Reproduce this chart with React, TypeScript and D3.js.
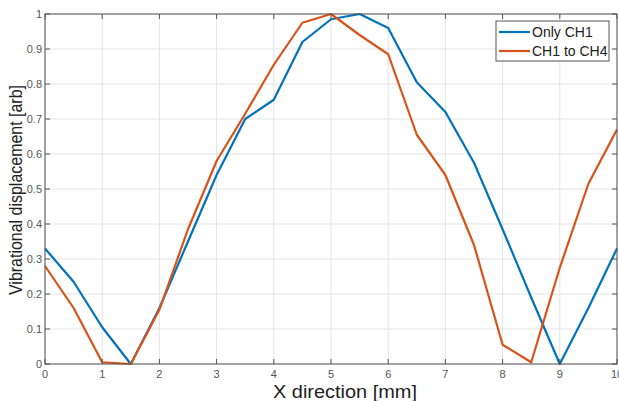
import React from "react";
import * as d3 from "d3";

// sample positions along X [mm]
const xPositions = [0, 0.5, 1, 1.5, 2, 2.5, 3, 3.5, 4, 4.5, 5, 5.5, 6, 6.5, 7, 7.5, 8, 8.5, 9, 9.5, 10];
const onlyCh1 = [0.33, 0.235, 0.105, 0.0, 0.16, 0.35, 0.54, 0.7, 0.755, 0.92, 0.985, 1.0, 0.96, 0.805, 0.72, 0.575, 0.385, 0.19, 0.0, 0.16, 0.33];
const ch1ToCh4 = [0.28, 0.16, 0.005, 0.0, 0.155, 0.385, 0.58, 0.715, 0.855, 0.975, 1.0, 0.94, 0.885, 0.655, 0.54, 0.34, 0.055, 0.005, 0.275, 0.515, 0.67];
const xTicks = [0, 1, 2, 3, 4, 5, 6, 7, 8, 9, 10];
const yTicks = [0, 0.1, 0.2, 0.3, 0.4, 0.5, 0.6, 0.7, 0.8, 0.9, 1];
const seriesNames = ["Only CH1", "CH1 to CH4"];

const colors = ["#0072BD", "#D95319"];

export default function App() {
  const width = 619;
  const height = 401;
  const margin = { top: 14, right: 2, bottom: 37, left: 45 };
  const innerWidth = width - margin.left - margin.right;
  const innerHeight = height - margin.top - margin.bottom;

  const xScale = d3.scaleLinear().domain([0, 10]).range([0, innerWidth]);
  const yScale = d3.scaleLinear().domain([0, 1]).range([innerHeight, 0]);

  const lineGen = d3
    .line<number>()
    .x((_, i) => xScale(xPositions[i]))
    .y((d) => yScale(d));

  const series = [onlyCh1, ch1ToCh4];
  const font = "Arial, 'Liberation Sans', sans-serif";
  const tickLen = 5;

  return (
    <svg width={width} height={height} style={{ position: "absolute", left: 0, top: 0, background: "#fff" }}>
      <g transform={`translate(${margin.left},${margin.top})`}>
        {/* grid */}
        {xTicks.map((t) => (
          <line key={"gx" + t} x1={xScale(t)} x2={xScale(t)} y1={0} y2={innerHeight} stroke="#e3e3e3" strokeWidth={1} />
        ))}
        {yTicks.map((t) => (
          <line key={"gy" + t} x1={0} x2={innerWidth} y1={yScale(t)} y2={yScale(t)} stroke="#e3e3e3" strokeWidth={1} />
        ))}

        {/* data lines */}
        {series.map((s, i) => (
          <path key={i} d={lineGen(s) || ""} fill="none" stroke={colors[i]} strokeWidth={2.2} strokeLinejoin="round" />
        ))}

        {/* box */}
        <rect x={0} y={0} width={innerWidth} height={innerHeight} fill="none" stroke="#555" strokeWidth={1} />

        {/* ticks */}
        {xTicks.map((t) => (
          <g key={"tx" + t} transform={`translate(${xScale(t)},0)`}>
            <line y1={innerHeight} y2={innerHeight - tickLen} stroke="#555" />
            <line y1={0} y2={tickLen} stroke="#555" />
            <text y={innerHeight + 14} textAnchor="middle" fontSize={11} fill="#555" fontFamily={font}>
              {t}
            </text>
          </g>
        ))}
        {yTicks.map((t) => (
          <g key={"ty" + t} transform={`translate(0,${yScale(t)})`}>
            <line x1={0} x2={tickLen} stroke="#555" />
            <line x1={innerWidth} x2={innerWidth - tickLen} stroke="#555" />
            <text x={-3} dy="0.35em" textAnchor="end" fontSize={11} fill="#555" fontFamily={font}>
              {d3.format("~g")(t)}
            </text>
          </g>
        ))}

        {/* legend */}
        <g transform={`translate(${innerWidth - 121},7)`}>
          <rect x={0} y={0} width={113} height={40} fill="#fff" stroke="#555" strokeWidth={1} />
          {seriesNames.map((name, i) => (
            <g key={name} transform={`translate(0,${11 + i * 19})`}>
              <line x1={3} x2={34} y1={0} y2={0} stroke={colors[i]} strokeWidth={2.2} />
              <text x={36} dy="0.36em" fontSize={14} fill="#222" fontFamily={font}>
                {name}
              </text>
            </g>
          ))}
        </g>
      </g>

      {/* axis titles */}
      <text
        x={345}
        y={398}
        textAnchor="middle"
        fontSize={18}
        fill="#222"
        fontFamily={font}
        textLength={144}
        lengthAdjust="spacingAndGlyphs"
      >
        X direction [mm]
      </text>
      <text
        transform={`translate(22,190) rotate(-90)`}
        textAnchor="middle"
        fontSize={19}
        fill="#222"
        fontFamily={font}
        textLength={210}
        lengthAdjust="spacingAndGlyphs"
      >
        Vibrational displacement [arb]
      </text>
    </svg>
  );
}
